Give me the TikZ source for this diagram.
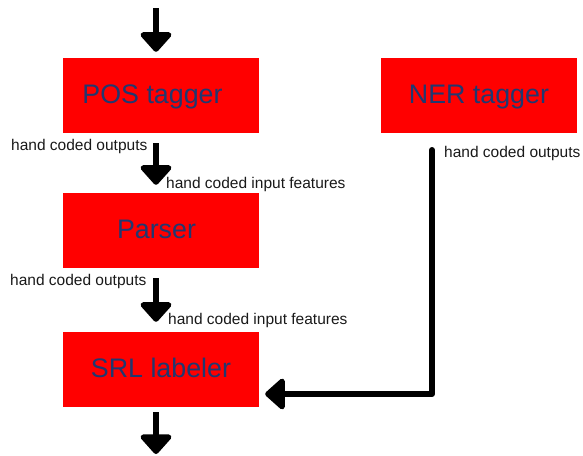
\documentclass[tikz,border=0pt]{standalone}
\usepackage{fontspec}
\setmainfont{Liberation Sans}
\usetikzlibrary{arrows.meta}
\definecolor{boxtext}{RGB}{32,56,112}
\tikzset{
  stage/.style={fill=red, draw=none, minimum width=196pt, minimum height=75pt, inner sep=0pt,
    text=boxtext, font=\fontsize{26.8}{30}\selectfont, text height=15pt, text depth=0pt},
  note/.style={anchor=base west, inner sep=0pt, text=black!90, font=\fontsize{15.5}{18}\selectfont},
  bigarrow/.style={line width=6pt, draw=black, line join=round,
    -{Triangle[length=21pt,width=36pt,round]}},
}
\begin{document}
\begin{tikzpicture}[x=1pt,y=-1pt]
\useasboundingbox (0,0) rectangle (583,455);
\node[stage] (pos) at (161,95.5) {POS tagger\hspace*{17pt}};
\node[stage] (ner) at (479,95.5) {NER tagger};
\node[stage] (parser) at (161,230.5) {Parser\hspace*{9pt}};
\node[stage] (srl) at (161,369.5) {SRL labeler};
\coordinate (in) at (156,8);
\coordinate (out) at (156,454);
\coordinate (nerout) at (432,150);
\node[note] (l1) at (11,150.7) {hand coded outputs};
\node[note] (l2) at (166,188.7) {hand coded input features};
\node[note] (l3) at (10,285) {hand coded outputs};
\node[note] (l4) at (168,324.3) {hand coded input features};
\node[note] (l5) at (444,157.3) {hand coded outputs};
\draw[bigarrow, shorten >=6pt] (in) -- (in |- pos.north);
\draw[bigarrow, shorten <=10pt, shorten >=8pt] ([xshift=-5pt]pos.south) -- ([xshift=-5pt]parser.north);
\draw[bigarrow, shorten <=10pt, shorten >=10pt] ([xshift=-5pt]parser.south) -- ([xshift=-5pt]srl.north);
\draw[bigarrow, shorten <=5pt] ([xshift=-5pt]srl.south) -- (out);
\draw[bigarrow, line cap=round, shorten >=6pt] (nerout) |- ([yshift=-24.5pt]srl.east);
\end{tikzpicture}
\end{document}
